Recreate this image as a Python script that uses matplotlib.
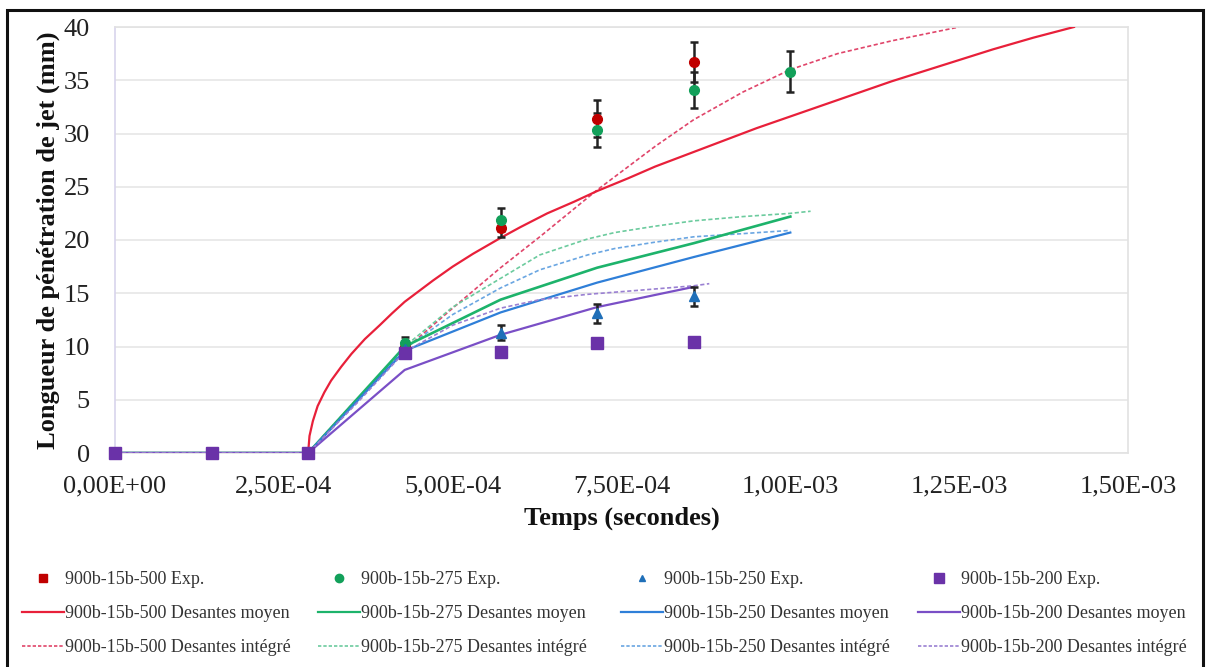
import matplotlib
matplotlib.use("Agg")
import matplotlib.pyplot as plt
from matplotlib.lines import Line2D
from matplotlib.patches import Rectangle
from matplotlib.ticker import FixedLocator, FuncFormatter

plt.rcParams['font.family'] = ['Liberation Serif', 'DejaVu Serif']

# ---------------- data ----------------
t_exp = [0, 1.43e-4, 2.86e-4, 4.29e-4, 5.71e-4, 7.14e-4, 8.57e-4, 1.0e-3]

red_exp = [0, 0, 0, 10.0, 21.1, 31.4, 36.7]
red_err = [0, 0, 0, 0.5, 0.8, 1.7, 1.9]
green_exp = [0, 0, 0, 10.3, 21.9, 30.3, 34.1, 35.8]
green_err = [0, 0, 0, 0.6, 1.1, 1.6, 1.7, 1.9]
blue_exp = [0, 0, 0, 9.8, 11.3, 13.1, 14.7]
blue_err = [0, 0, 0, 0.5, 0.7, 0.9, 0.9]
purple_exp = [0, 0, 0, 9.4, 9.5, 10.3, 10.4]

# Desantes moyen
t_red_moy = [0, 1.43e-4, 2.86e-4, 2.88e-4, 2.93e-4, 3.0e-4, 3.1e-4, 3.2e-4, 3.35e-4,
             3.5e-4, 3.7e-4, 3.92e-4, 4.1e-4, 4.29e-4, 4.5e-4, 4.71e-4, 5.0e-4, 5.3e-4,
             5.71e-4, 6.0e-4, 6.4e-4, 6.8e-4, 7.14e-4, 7.6e-4, 8.0e-4, 8.5e-4, 9.0e-4,
             9.5e-4, 1.0e-3, 1.05e-3, 1.1e-3, 1.15e-3, 1.2e-3, 1.25e-3, 1.3e-3,
             1.36e-3, 1.42e-3]
red_moy = [0, 0, 0, 1.6, 3.0, 4.4, 5.7, 6.8, 8.1, 9.3, 10.7, 12.0, 13.1, 14.2, 15.2,
           16.2, 17.5, 18.7, 20.2, 21.2, 22.5, 23.6, 24.6, 25.8, 26.9, 28.1, 29.3,
           30.5, 31.6, 32.7, 33.8, 34.9, 35.9, 36.9, 37.9, 39.0, 40.0]
green_moy = [0, 0, 0, 10.0, 14.4, 17.4, 19.7, 22.2]
blue_moy = [0, 0, 0, 9.6, 13.2, 16.0, 18.4, 20.7]
purple_moy = [0, 0, 0, 7.8, 11.1, 13.7, 15.6]

# Desantes intégré
t_red_int = [0, 1.43e-4, 2.86e-4, 3.5e-4, 4.29e-4, 5.0e-4, 5.71e-4, 6.29e-4, 7.14e-4,
             8.0e-4, 8.57e-4, 9.3e-4, 1.0e-3, 1.07e-3, 1.15e-3, 1.25e-3]
red_int = [0, 0, 0, 4.5, 9.7, 13.6, 17.4, 20.3, 24.7, 28.8, 31.3, 33.9, 36.0, 37.5,
           38.7, 40.0]
t_green_int = [0, 1.43e-4, 2.86e-4, 3.6e-4, 4.29e-4, 5.0e-4, 5.71e-4, 6.29e-4, 7.0e-4,
               7.4e-4, 8.0e-4, 8.57e-4, 9.3e-4, 1.0e-3, 1.03e-3]
green_int = [0, 0, 0, 5.0, 10.0, 13.7, 16.4, 18.6, 20.1, 20.7, 21.3, 21.8, 22.2, 22.5, 22.7]
t_blue_int = [0, 1.43e-4, 2.86e-4, 3.6e-4, 4.29e-4, 5.0e-4, 5.71e-4, 6.29e-4, 7.0e-4,
              7.4e-4, 8.0e-4, 8.57e-4, 9.3e-4, 1.0e-3]
blue_int = [0, 0, 0, 5.0, 9.8, 13.0, 15.5, 17.2, 18.6, 19.2, 19.8, 20.3, 20.6, 20.9]
t_purple_int = [0, 1.43e-4, 2.86e-4, 3.6e-4, 4.29e-4, 5.0e-4, 5.71e-4, 6.29e-4, 7.0e-4,
                7.8e-4, 8.57e-4, 8.8e-4]
purple_int = [0, 0, 0, 4.8, 9.5, 12.0, 13.6, 14.4, 14.9, 15.3, 15.7, 15.9]

x_ticks = [0, 2.5e-4, 5.0e-4, 7.5e-4, 1.0e-3, 1.25e-3, 1.5e-3]
y_ticks = [0, 5, 10, 15, 20, 25, 30, 35, 40]

labels = {
    'r': '900b-15b-500', 'g': '900b-15b-275', 'b': '900b-15b-250', 'p': '900b-15b-200'}

# ---------------- style ----------------
C_RED_L, C_RED_D, C_RED_M = '#E8203A', '#E0456A', '#C00000'
C_GRN_L, C_GRN_D, C_GRN_M = '#1DB36B', '#6CCB9E', '#12A05A'
C_BLU_L, C_BLU_D, C_BLU_M = '#2F7FD8', '#6AA6E2', '#1F6FB8'
C_PUR_L, C_PUR_D, C_PUR_M = '#7A4FC6', '#9A80D2', '#6A32A8'

fig = plt.figure(figsize=(12.06, 6.67), dpi=100)
ax = fig.add_axes([115/1206, 1-453/667, (1128-115)/1206, (453-27)/667])

dash = (0, (2.5, 1.5))
lw_s, lw_d = 1.6, 1.2

ax.plot(t_red_int, red_int, color=C_RED_D, lw=lw_d, ls=dash, zorder=2)
ax.plot(t_green_int, green_int, color=C_GRN_D, lw=lw_d, ls=dash, zorder=2)
ax.plot(t_blue_int, blue_int, color=C_BLU_D, lw=lw_d, ls=dash, zorder=2)
ax.plot(t_red_moy, red_moy, color=C_RED_L, lw=lw_s, zorder=3)
ax.plot(t_exp, green_moy, color=C_GRN_L, lw=lw_s + 0.3, zorder=3)
ax.plot(t_exp, blue_moy, color=C_BLU_L, lw=lw_s, zorder=3)
ax.plot(t_exp[:len(purple_moy)], purple_moy, color=C_PUR_L, lw=lw_s, zorder=3)
ax.plot(t_purple_int, purple_int, color=C_PUR_D, lw=lw_d, ls=dash, zorder=3)

ekw = dict(ecolor='#222222', elinewidth=1.8, capsize=3, capthick=1.8, ls='none',
           clip_on=False)
ax.errorbar(t_exp[:len(red_exp)], red_exp, yerr=red_err, marker='o', ms=7,
            color=C_RED_M, mec=C_RED_M, zorder=5, **ekw)
ax.errorbar(t_exp, green_exp, yerr=green_err, marker='o', ms=7,
            color=C_GRN_M, mec=C_GRN_M, zorder=5, **ekw)
ax.errorbar(t_exp[:len(blue_exp)], blue_exp, yerr=blue_err, marker='^', ms=7,
            color=C_BLU_M, mec=C_BLU_M, zorder=5, **ekw)
ax.plot(t_exp[:len(purple_exp)], purple_exp, marker='s', ms=8.5, ls='none',
        color=C_PUR_M, mec=C_PUR_M, zorder=6, clip_on=False)

ax.set_xlim(0, 1.5e-3)
ax.set_ylim(0, 40)
ax.xaxis.set_major_locator(FixedLocator(x_ticks))
ax.yaxis.set_major_locator(FixedLocator(y_ticks))

def fmt_x(v, pos):
    s = f"{v:.2E}".replace('.', ',')
    return s
ax.xaxis.set_major_formatter(FuncFormatter(fmt_x))
ax.tick_params(axis='both', length=0, labelsize=19, colors='#222222')
ax.tick_params(axis='x', pad=16)
ax.tick_params(axis='y', pad=18)
ax.grid(axis='y', color='#E6E6E6', lw=1.2)
ax.set_axisbelow(True)
for s in ax.spines.values():
    s.set_color('#E2E2E2')
    s.set_linewidth(1.2)
ax.spines['left'].set_color('#D8D4EC')

ax.set_ylabel('Longueur de pénétration de jet (mm)', fontsize=19, fontweight='bold',
              color='#111111')
ax.yaxis.set_label_coords(-0.054, 0.5)
ax.set_xlabel('Temps (secondes)', fontsize=19, fontweight='bold', color='#111111')
ax.xaxis.set_label_coords(0.5, -0.125)

# ---------------- legend (4 columns) ----------------
groups = [
    ('r', C_RED_M, 's', 6, C_RED_L, C_RED_D, 22),
    ('g', C_GRN_M, 'o', 6, C_GRN_L, C_GRN_D, 318),
    ('b', C_BLU_M, '^', 5, C_BLU_L, C_BLU_D, 621),
    ('p', C_PUR_M, 's', 7, C_PUR_L, C_PUR_D, 918),
]
for key, cm, mk, ms, cl, cd, xpx in groups:
    hs = [Line2D([], [], marker=mk, ms=ms, color=cm, ls='none'),
          Line2D([], [], color=cl, lw=1.6),
          Line2D([], [], color=cd, lw=1.2, ls=(0, (2, 1.2)))]
    ls = [f"{labels[key]} Exp.", f"{labels[key]} Desantes moyen",
          f"{labels[key]} Desantes intégré"]
    leg = fig.legend(hs, ls, loc='upper left', bbox_to_anchor=(xpx/1206, 1-571/667),
                     frameon=False, fontsize=13, handlelength=2.3, handletextpad=0.1,
                     labelspacing=0.95, borderpad=0, borderaxespad=0)
    for t in leg.get_texts():
        t.set_color('#333333')

# outer frame
fig.patches.append(Rectangle((7/1206, -0.02), (1203-7)/1206, 1.02 - 10/667,
                             transform=fig.transFigure, fill=False,
                             edgecolor='#111111', lw=2.2))

fig.savefig('out.png', dpi=100)
